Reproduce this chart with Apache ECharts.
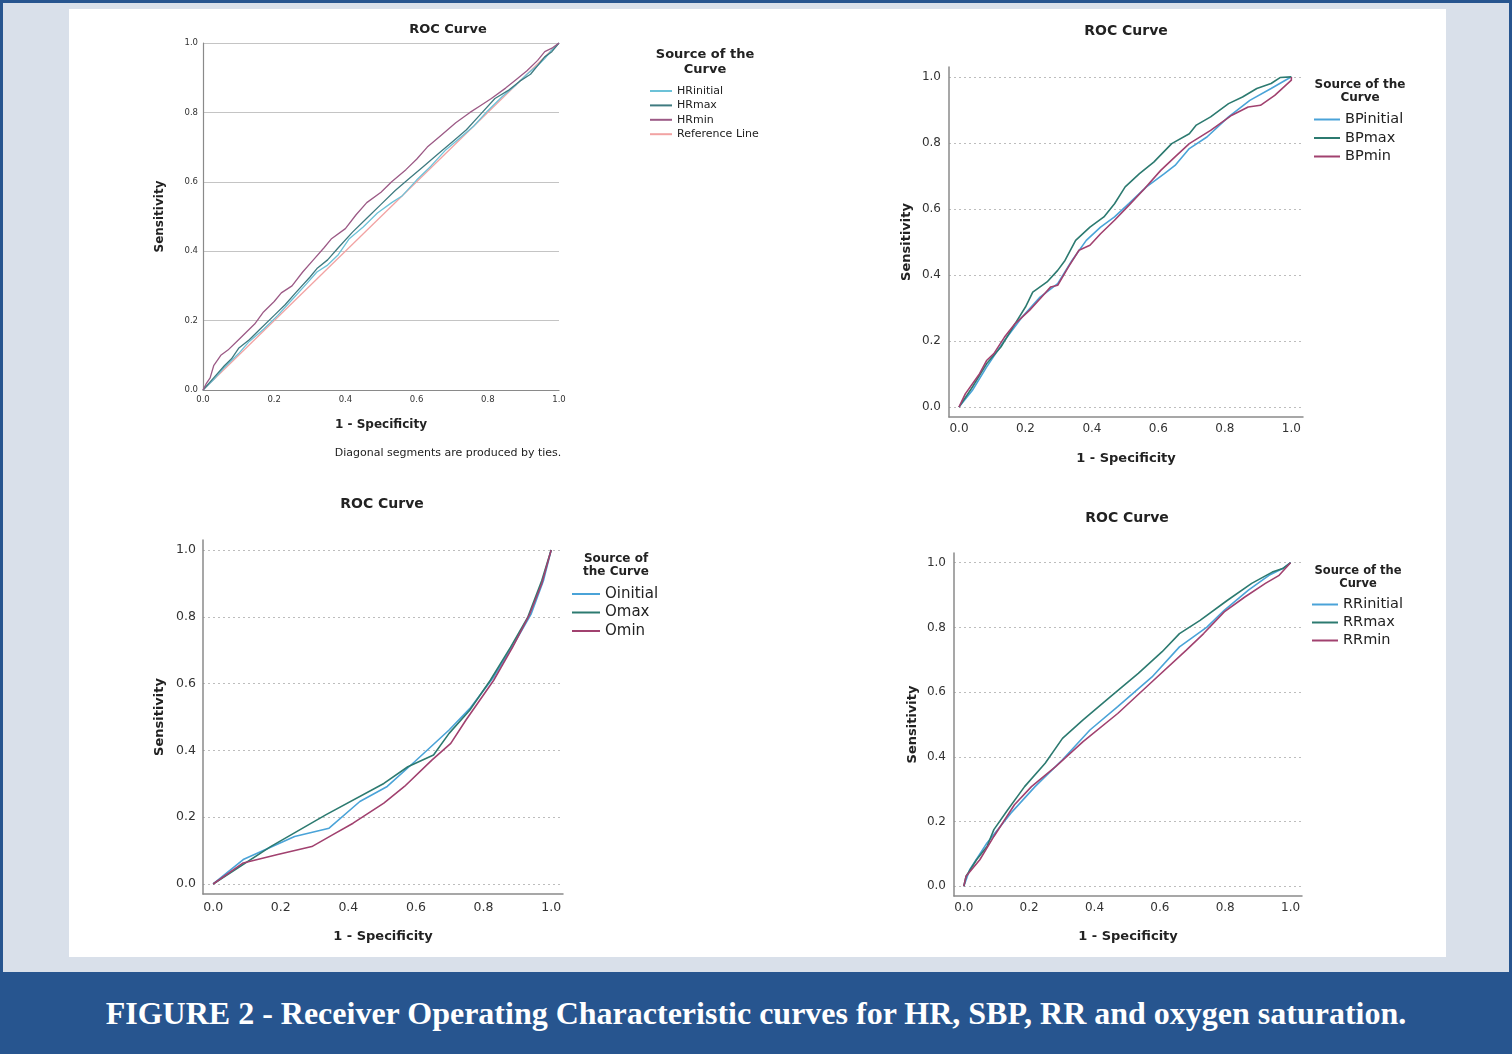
<!DOCTYPE html>
<html>
<head>
<meta charset="utf-8">
<title>ROC curves</title>
<script src="https://cdn.jsdelivr.net/npm/echarts@6/dist/echarts.min.js"></script>
<style>
  html, body { margin: 0; padding: 0; }
  body { width: 1512px; height: 1054px; position: relative; background: #27558f; overflow: hidden; }
  #frame { position: absolute; left: 3px; top: 3px; width: 1506px; height: 969px; background: #d9e0ea; }
  #panel { position: absolute; left: 69px; top: 9px; width: 1377px; height: 948px; background: #ffffff; }
  #caption { position: absolute; left: 0; top: 973px; width: 1512px; height: 81px; line-height: 81px;
             text-align: center; color: #ffffff; font-family: "Liberation Serif", "DejaVu Serif", serif;
             font-weight: bold; font-size: 32px; }
  #main { position: absolute; left: 0; top: 0; width: 1512px; height: 1054px; }
</style>
</head>
<body>
<div id="frame"></div>
<div id="panel"></div>
<div id="caption">FIGURE 2 - Receiver Operating Characteristic curves for HR, SBP, RR and oxygen saturation.</div>
<div id="main"></div>
<script type="text/javascript">
// ---- data: [1 - specificity, sensitivity] ----
var tickValues = [0, 0.2, 0.4, 0.6, 0.8, 1.0];

var hrInitial = [[0,0],[0.03,0.03],[0.06,0.065],[0.1,0.105],[0.13,0.14],[0.17,0.175],[0.21,0.215],[0.25,0.26],[0.29,0.305],[0.32,0.34],[0.35,0.36],[0.38,0.39],[0.41,0.435],[0.45,0.47],[0.49,0.51],[0.53,0.54],[0.56,0.56],[0.6,0.605],[0.64,0.645],[0.68,0.69],[0.72,0.725],[0.76,0.76],[0.8,0.805],[0.84,0.845],[0.88,0.88],[0.91,0.91],[0.94,0.935],[0.96,0.955],[0.98,0.98],[1,1]];
var hrMax = [[0,0],[0.03,0.035],[0.06,0.07],[0.08,0.09],[0.1,0.12],[0.13,0.145],[0.16,0.175],[0.2,0.215],[0.23,0.245],[0.26,0.28],[0.3,0.325],[0.32,0.35],[0.35,0.375],[0.38,0.41],[0.42,0.455],[0.46,0.495],[0.5,0.535],[0.54,0.575],[0.58,0.61],[0.62,0.645],[0.66,0.68],[0.7,0.715],[0.74,0.75],[0.78,0.795],[0.82,0.84],[0.86,0.865],[0.89,0.89],[0.92,0.91],[0.94,0.935],[0.96,0.96],[0.98,0.975],[1,1]];
var hrMin = [[0,0],[0.01,0.02],[0.02,0.035],[0.03,0.07],[0.05,0.1],[0.07,0.115],[0.1,0.145],[0.12,0.165],[0.145,0.19],[0.17,0.225],[0.2,0.255],[0.22,0.28],[0.25,0.3],[0.28,0.34],[0.31,0.375],[0.34,0.41],[0.36,0.435],[0.4,0.465],[0.43,0.505],[0.46,0.54],[0.5,0.57],[0.53,0.6],[0.57,0.635],[0.6,0.665],[0.63,0.7],[0.67,0.735],[0.71,0.77],[0.75,0.8],[0.78,0.82],[0.81,0.84],[0.85,0.87],[0.88,0.895],[0.91,0.92],[0.94,0.95],[0.96,0.975],[0.98,0.985],[1,1]];
var refLine = [[0,0],[1,1]];

var bpInitial = [[0,0],[0.04,0.05],[0.083,0.121],[0.137,0.202],[0.19,0.273],[0.244,0.333],[0.297,0.374],[0.34,0.444],[0.383,0.505],[0.426,0.545],[0.468,0.576],[0.511,0.616],[0.564,0.667],[0.618,0.707],[0.65,0.732],[0.693,0.783],[0.746,0.818],[0.811,0.879],[0.875,0.929],[0.939,0.965],[0.982,0.99],[1,1]];
var bpMax = [[0,0],[0.04,0.06],[0.083,0.131],[0.126,0.182],[0.169,0.253],[0.2,0.303],[0.222,0.348],[0.265,0.379],[0.297,0.414],[0.319,0.444],[0.351,0.505],[0.394,0.545],[0.436,0.576],[0.468,0.616],[0.5,0.667],[0.543,0.707],[0.586,0.742],[0.64,0.798],[0.693,0.828],[0.714,0.854],[0.757,0.879],[0.811,0.919],[0.853,0.939],[0.896,0.965],[0.939,0.98],[0.966,0.998],[1,1]];
var bpMin = [[0,0],[0.019,0.04],[0.062,0.101],[0.083,0.141],[0.105,0.162],[0.137,0.212],[0.169,0.253],[0.212,0.293],[0.244,0.328],[0.276,0.364],[0.297,0.369],[0.329,0.424],[0.361,0.475],[0.394,0.49],[0.426,0.525],[0.468,0.566],[0.511,0.611],[0.554,0.657],[0.607,0.717],[0.65,0.758],[0.693,0.798],[0.757,0.838],[0.821,0.884],[0.87,0.909],[0.907,0.914],[0.95,0.944],[1,0.99],[1,1]];

var oInitial = [[0,0],[0.089,0.073],[0.241,0.142],[0.343,0.167],[0.434,0.247],[0.515,0.292],[0.596,0.366],[0.698,0.461],[0.759,0.525],[0.83,0.62],[0.89,0.719],[0.941,0.809],[0.977,0.908],[1,1]];
var oMax = [[0,0],[0.17,0.112],[0.333,0.207],[0.505,0.301],[0.576,0.351],[0.652,0.386],[0.698,0.451],[0.759,0.52],[0.82,0.61],[0.88,0.709],[0.931,0.799],[0.972,0.908],[1,1]];
var oMin = [[0,0],[0.089,0.063],[0.191,0.088],[0.292,0.112],[0.353,0.147],[0.414,0.182],[0.505,0.242],[0.566,0.292],[0.647,0.371],[0.703,0.421],[0.748,0.491],[0.83,0.61],[0.886,0.709],[0.937,0.809],[0.972,0.899],[1,1]];

var rrInitial = [[0,0],[0.018,0.051],[0.071,0.134],[0.144,0.226],[0.218,0.308],[0.302,0.391],[0.386,0.483],[0.471,0.555],[0.576,0.647],[0.66,0.74],[0.744,0.801],[0.797,0.853],[0.871,0.915],[0.934,0.961],[0.976,0.982],[1,1]];
var rrMax = [[0,0],[0.007,0.031],[0.039,0.082],[0.071,0.123],[0.092,0.175],[0.134,0.236],[0.186,0.308],[0.249,0.38],[0.302,0.457],[0.365,0.514],[0.449,0.586],[0.534,0.658],[0.607,0.725],[0.66,0.781],[0.723,0.822],[0.807,0.884],[0.881,0.936],[0.944,0.971],[0.976,0.982],[1,1]];
var rrMin = [[0,0],[0.007,0.031],[0.049,0.082],[0.092,0.154],[0.155,0.252],[0.207,0.308],[0.281,0.37],[0.365,0.447],[0.471,0.534],[0.576,0.632],[0.681,0.73],[0.734,0.781],[0.797,0.848],[0.86,0.894],[0.923,0.936],[0.965,0.961],[1,1]];

// ---- colours ----
var cInitial = '#4aa3d8', cMax = '#2c7a70', cMin = '#a1416f';

var myChart = echarts.init(document.getElementById('main'));

var font = 'DejaVu Sans';
function fmt(v) { return v.toFixed(1); }

// one panel in SPSS style (offset axes, dotted grid)
function spssAxes(idx, tickSize, labMarginX, labMarginY, gapX, gapY, nameSize) {
    var x = {
        gridIndex: idx, type: 'value', min: -0.03, max: 1.035,
        name: '1 - Specificity', nameLocation: 'middle', nameGap: gapX,
        nameTextStyle: { fontFamily: font, fontWeight: 'bold', fontSize: nameSize, color: '#222' },
        axisLine: { show: true, onZero: false, lineStyle: { color: '#8a8a8a', width: 1.5 } },
        axisTick: { show: false, customValues: tickValues },
        axisLabel: { customValues: tickValues, formatter: fmt, fontFamily: font, fontSize: tickSize, color: '#333', margin: labMarginX },
        splitLine: { show: false }
    };
    var y = {
        gridIndex: idx, type: 'value', min: -0.03, max: 1.03,
        name: 'Sensitivity', nameLocation: 'middle', nameGap: gapY,
        nameTextStyle: { fontFamily: font, fontWeight: 'bold', fontSize: nameSize, color: '#222' },
        axisLine: { show: true, onZero: false, lineStyle: { color: '#8a8a8a', width: 1.5 } },
        axisTick: { show: false, customValues: tickValues },
        axisLabel: { customValues: tickValues, formatter: fmt, fontFamily: font, fontSize: tickSize, color: '#333', margin: labMarginY },
        splitLine: { show: true, lineStyle: { color: '#bdbdbd', width: 1, type: [2, 3] } }
    };
    return [x, y];
}

function lineSeries(name, data, color, idx, width) {
    return {
        type: 'line', name: name, data: data, xAxisIndex: idx, yAxisIndex: idx,
        showSymbol: false, symbol: 'none', smooth: false, silent: true,
        lineStyle: { color: color, width: width }, itemStyle: { color: color }
    };
}

var ax1 = spssAxes(1, 12, 6, 8, 35, 36, 13);
var ax2 = spssAxes(2, 12.5, 7, 7, 36, 37, 13);
var ax3 = spssAxes(3, 12, 6, 8, 34, 35, 13);

function legend(names, left, top, size, lh, gap, w, textGap) {
    return {
        data: names, orient: 'vertical', left: left, top: top, padding: 0,
        itemWidth: w, itemHeight: 2, itemGap: gap, icon: 'rect', itemTextGap: textGap,
        selectedMode: false,
        textStyle: { fontFamily: font, fontSize: size, lineHeight: lh, color: '#222' }
    };
}

function text(str, x, y, size, weight) {
    return {
        type: 'text', x: x, y: y, silent: true,
        style: { text: str, fill: '#222', font: weight + ' ' + size + 'px "' + font + '"', textAlign: 'center', textVerticalAlign: 'middle' }
    };
}

option = {
    animation: false,
    grid: [
        { left: 203, top: 43, width: 356, height: 347 },
        { left: 949, top: 67, width: 354, height: 350 },
        { left: 203, top: 540, width: 360, height: 354 },
        { left: 954, top: 553, width: 348, height: 343 }
    ],
    xAxis: [
        {
            gridIndex: 0, type: 'value', min: 0, max: 1, interval: 0.2,
            name: '1 - Specificity', nameLocation: 'middle', nameGap: 29,
            nameTextStyle: { fontFamily: font, fontWeight: 'bold', fontSize: 12, color: '#222' },
            axisLine: { show: true, lineStyle: { color: '#8a8a8a', width: 1.2 } },
            axisTick: { show: false },
            axisLabel: { formatter: fmt, fontFamily: font, fontSize: 8.5, color: '#333', margin: 5 },
            splitLine: { show: false }
        },
        ax1[0], ax2[0], ax3[0]
    ],
    yAxis: [
        {
            gridIndex: 0, type: 'value', min: 0, max: 1, interval: 0.2,
            name: 'Sensitivity', nameLocation: 'middle', nameGap: 37,
            nameTextStyle: { fontFamily: font, fontWeight: 'bold', fontSize: 12, color: '#222' },
            axisLine: { show: true, lineStyle: { color: '#8a8a8a', width: 1.2 } },
            axisTick: { show: false },
            axisLabel: { formatter: fmt, fontFamily: font, fontSize: 8.5, color: '#333', margin: 5 },
            splitLine: { show: true, lineStyle: { color: '#c4c4c4', width: 1 } }
        },
        ax1[1], ax2[1], ax3[1]
    ],
    legend: [
        legend(['HRinitial', 'HRmax', 'HRmin', 'Reference Line'], 650, 85, 11, 12, 2.4, 22, 5),
        legend(['BPinitial', 'BPmax', 'BPmin'], 1314, 112, 14.5, 15, 3.5, 26, 5),
        legend(['Oinitial', 'Omax', 'Omin'], 572, 586, 15, 16, 2.5, 28, 4),
        legend(['RRinitial', 'RRmax', 'RRmin'], 1312, 597, 14.5, 15, 3, 26, 5)
    ],
    graphic: [
        text('ROC Curve', 448, 30, 13, 'bold'),
        text('Source of the', 705, 55, 13, 'bold'),
        text('Curve', 705, 70, 13, 'bold'),
        text('Diagonal segments are produced by ties.', 448, 453, 11, 'normal'),
        text('ROC Curve', 1126, 31, 14, 'bold'),
        text('Source of the', 1360, 85, 12, 'bold'),
        text('Curve', 1360, 98, 12, 'bold'),
        text('ROC Curve', 382, 504, 14, 'bold'),
        text('Source of', 616, 559, 12, 'bold'),
        text('the Curve', 616, 572, 12, 'bold'),
        text('ROC Curve', 1127, 518, 14, 'bold'),
        text('Source of the', 1358, 571, 11.5, 'bold'),
        text('Curve', 1358, 584, 11.5, 'bold')
    ],
    series: [
        lineSeries('Reference Line', refLine, '#f2a3a3', 0, 1.3),
        lineSeries('HRinitial', hrInitial, '#6cc2d8', 0, 1.3),
        lineSeries('HRmax', hrMax, '#3f7b80', 0, 1.3),
        lineSeries('HRmin', hrMin, '#9c5a86', 0, 1.3),
        lineSeries('BPinitial', bpInitial, cInitial, 1, 1.6),
        lineSeries('BPmax', bpMax, cMax, 1, 1.6),
        lineSeries('BPmin', bpMin, cMin, 1, 1.6),
        lineSeries('Oinitial', oInitial, cInitial, 2, 1.6),
        lineSeries('Omax', oMax, cMax, 2, 1.6),
        lineSeries('Omin', oMin, cMin, 2, 1.6),
        lineSeries('RRinitial', rrInitial, cInitial, 3, 1.6),
        lineSeries('RRmax', rrMax, cMax, 3, 1.6),
        lineSeries('RRmin', rrMin, cMin, 3, 1.6)
    ]
};
myChart.setOption(option);
</script>
</body>
</html>
